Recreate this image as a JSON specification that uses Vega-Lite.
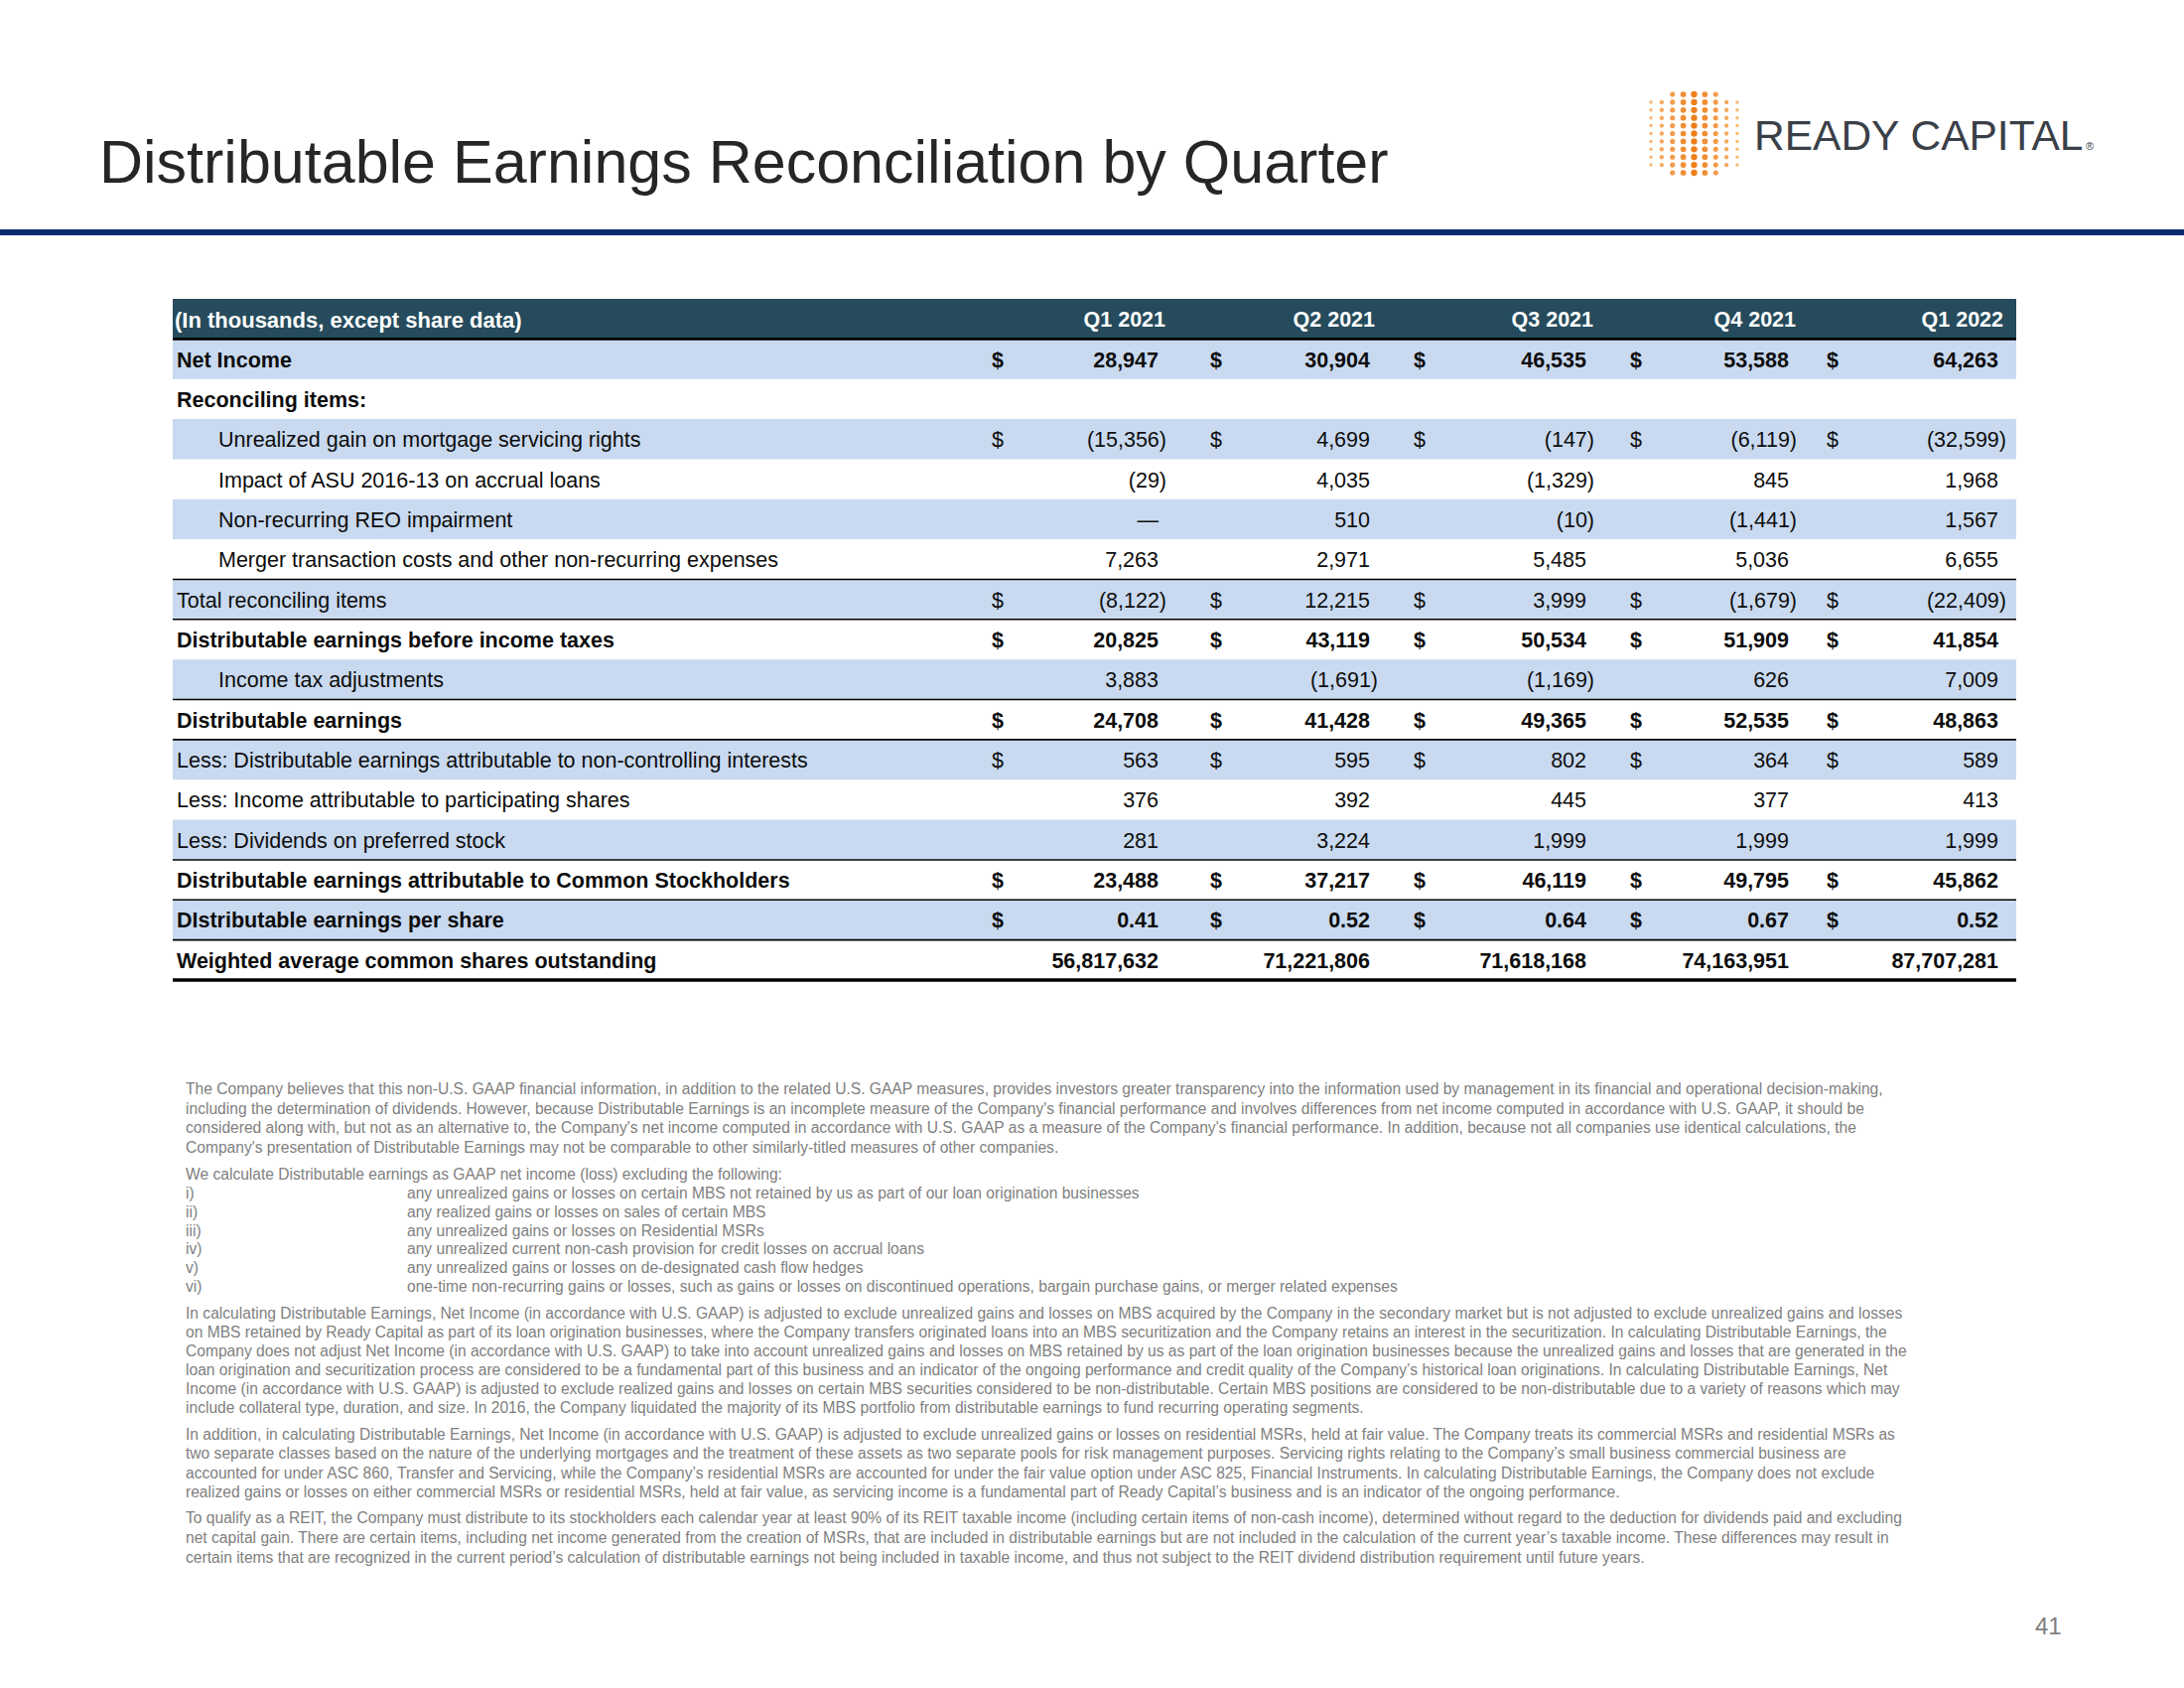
{
  "$schema": "https://vega.github.io/schema/vega-lite/v6.json",
  "width": 2200,
  "height": 1700,
  "autosize": "none",
  "padding": 0,
  "background": "white",
  "title": {"text": "Distributable Earnings Reconciliation by Quarter", "anchor": "start", "frame": "group", "orient": "top", "offset": 0, "dx": 100, "dy": 245, "baseline": "alphabetic", "font": "Liberation Sans", "fontSize": 61, "fontWeight": "normal", "color": "#262626"},
  "config": {"view": {"stroke": null}, "text": {"font": "Liberation Sans"}},
  "datasets": {
    "rows": [
      {"r": 0, "label": "(In thousands, except share data)", "level": 0},
      {"r": 1, "label": "Net Income", "level": 0},
      {"r": 2, "label": "Reconciling items:", "level": 0},
      {"r": 3, "label": "Unrealized gain on mortgage servicing rights", "level": 1},
      {"r": 4, "label": "Impact of ASU 2016-13 on accrual loans", "level": 1},
      {"r": 5, "label": "Non-recurring REO impairment", "level": 1},
      {"r": 6, "label": "Merger transaction costs and other non-recurring expenses", "level": 1},
      {"r": 7, "label": "Total reconciling items", "level": 0},
      {"r": 8, "label": "Distributable earnings before income taxes", "level": 0},
      {"r": 9, "label": "Income tax adjustments", "level": 1},
      {"r": 10, "label": "Distributable earnings", "level": 0},
      {"r": 11, "label": "Less: Distributable earnings attributable to non-controlling interests", "level": 0},
      {"r": 12, "label": "Less: Income attributable to participating shares", "level": 0},
      {"r": 13, "label": "Less: Dividends on preferred stock", "level": 0},
      {"r": 14, "label": "Distributable earnings attributable to Common Stockholders", "level": 0},
      {"r": 15, "label": "DIstributable earnings per share", "level": 0},
      {"r": 16, "label": "Weighted average common shares outstanding", "level": 0}
    ],
    "quarters": [
      {"c": 1, "q": "Q1 2021"}, {"c": 2, "q": "Q2 2021"}, {"c": 3, "q": "Q3 2021"}, {"c": 4, "q": "Q4 2021"}, {"c": 5, "q": "Q1 2022"}
    ],
    "cells": [
      {"r": 1, "c": 1, "v": 28947, "usd": true}, {"r": 1, "c": 2, "v": 30904, "usd": true}, {"r": 1, "c": 3, "v": 46535, "usd": true}, {"r": 1, "c": 4, "v": 53588, "usd": true}, {"r": 1, "c": 5, "v": 64263, "usd": true},
      {"r": 3, "c": 1, "v": -15356, "usd": true}, {"r": 3, "c": 2, "v": 4699, "usd": true}, {"r": 3, "c": 3, "v": -147, "usd": true}, {"r": 3, "c": 4, "v": -6119, "usd": true}, {"r": 3, "c": 5, "v": -32599, "usd": true},
      {"r": 4, "c": 1, "v": -29, "usd": false}, {"r": 4, "c": 2, "v": 4035, "usd": false}, {"r": 4, "c": 3, "v": -1329, "usd": false}, {"r": 4, "c": 4, "v": 845, "usd": false}, {"r": 4, "c": 5, "v": 1968, "usd": false},
      {"r": 5, "c": 1, "v": null, "usd": false}, {"r": 5, "c": 2, "v": 510, "usd": false}, {"r": 5, "c": 3, "v": -10, "usd": false}, {"r": 5, "c": 4, "v": -1441, "usd": false}, {"r": 5, "c": 5, "v": 1567, "usd": false},
      {"r": 6, "c": 1, "v": 7263, "usd": false}, {"r": 6, "c": 2, "v": 2971, "usd": false}, {"r": 6, "c": 3, "v": 5485, "usd": false}, {"r": 6, "c": 4, "v": 5036, "usd": false}, {"r": 6, "c": 5, "v": 6655, "usd": false},
      {"r": 7, "c": 1, "v": -8122, "usd": true}, {"r": 7, "c": 2, "v": 12215, "usd": true}, {"r": 7, "c": 3, "v": 3999, "usd": true}, {"r": 7, "c": 4, "v": -1679, "usd": true}, {"r": 7, "c": 5, "v": -22409, "usd": true},
      {"r": 8, "c": 1, "v": 20825, "usd": true}, {"r": 8, "c": 2, "v": 43119, "usd": true}, {"r": 8, "c": 3, "v": 50534, "usd": true}, {"r": 8, "c": 4, "v": 51909, "usd": true}, {"r": 8, "c": 5, "v": 41854, "usd": true},
      {"r": 9, "c": 1, "v": 3883, "usd": false}, {"r": 9, "c": 2, "v": -1691, "usd": false}, {"r": 9, "c": 3, "v": -1169, "usd": false}, {"r": 9, "c": 4, "v": 626, "usd": false}, {"r": 9, "c": 5, "v": 7009, "usd": false},
      {"r": 10, "c": 1, "v": 24708, "usd": true}, {"r": 10, "c": 2, "v": 41428, "usd": true}, {"r": 10, "c": 3, "v": 49365, "usd": true}, {"r": 10, "c": 4, "v": 52535, "usd": true}, {"r": 10, "c": 5, "v": 48863, "usd": true},
      {"r": 11, "c": 1, "v": 563, "usd": true}, {"r": 11, "c": 2, "v": 595, "usd": true}, {"r": 11, "c": 3, "v": 802, "usd": true}, {"r": 11, "c": 4, "v": 364, "usd": true}, {"r": 11, "c": 5, "v": 589, "usd": true},
      {"r": 12, "c": 1, "v": 376, "usd": false}, {"r": 12, "c": 2, "v": 392, "usd": false}, {"r": 12, "c": 3, "v": 445, "usd": false}, {"r": 12, "c": 4, "v": 377, "usd": false}, {"r": 12, "c": 5, "v": 413, "usd": false},
      {"r": 13, "c": 1, "v": 281, "usd": false}, {"r": 13, "c": 2, "v": 3224, "usd": false}, {"r": 13, "c": 3, "v": 1999, "usd": false}, {"r": 13, "c": 4, "v": 1999, "usd": false}, {"r": 13, "c": 5, "v": 1999, "usd": false},
      {"r": 14, "c": 1, "v": 23488, "usd": true}, {"r": 14, "c": 2, "v": 37217, "usd": true}, {"r": 14, "c": 3, "v": 46119, "usd": true}, {"r": 14, "c": 4, "v": 49795, "usd": true}, {"r": 14, "c": 5, "v": 45862, "usd": true},
      {"r": 15, "c": 1, "v": 0.41, "usd": true}, {"r": 15, "c": 2, "v": 0.52, "usd": true}, {"r": 15, "c": 3, "v": 0.64, "usd": true}, {"r": 15, "c": 4, "v": 0.67, "usd": true}, {"r": 15, "c": 5, "v": 0.52, "usd": true},
      {"r": 16, "c": 1, "v": 56817632, "usd": false}, {"r": 16, "c": 2, "v": 71221806, "usd": false}, {"r": 16, "c": 3, "v": 71618168, "usd": false}, {"r": 16, "c": 4, "v": 74163951, "usd": false}, {"r": 16, "c": 5, "v": 87707281, "usd": false}
    ],
    "notes": [
      {"n": 1, "t": "The Company believes that this non-U.S. GAAP financial information, in addition to the related U.S. GAAP measures, provides investors greater transparency into the information used by management in its financial and operational decision-making,"},
      {"n": 2, "t": "including the determination of dividends. However, because Distributable Earnings is an incomplete measure of the Company's financial performance and involves differences from net income computed in accordance with U.S. GAAP, it should be"},
      {"n": 3, "t": "considered along with, but not as an alternative to, the Company's net income computed in accordance with U.S. GAAP as a measure of the Company's financial performance. In addition, because not all companies use identical calculations, the"},
      {"n": 4, "t": "Company's presentation of Distributable Earnings may not be comparable to other similarly-titled measures of other companies."},
      {"n": 5, "t": "We calculate Distributable earnings as GAAP net income (loss) excluding the following:"},
      {"n": 6, "num": "i)", "t": "any unrealized gains or losses on certain MBS not retained by us as part of our loan origination businesses"},
      {"n": 7, "num": "ii)", "t": "any realized gains or losses on sales of certain MBS"},
      {"n": 8, "num": "iii)", "t": "any unrealized gains or losses on Residential MSRs"},
      {"n": 9, "num": "iv)", "t": "any unrealized current non-cash provision for credit losses on accrual loans"},
      {"n": 10, "num": "v)", "t": "any unrealized gains or losses on de-designated cash flow hedges"},
      {"n": 11, "num": "vi)", "t": "one-time non-recurring gains or losses, such as gains or losses on discontinued operations, bargain purchase gains, or merger related expenses"},
      {"n": 12, "t": "In calculating Distributable Earnings, Net Income (in accordance with U.S. GAAP) is adjusted to exclude unrealized gains and losses on MBS acquired by the Company in the secondary market but is not adjusted to exclude unrealized gains and losses"},
      {"n": 13, "t": "on MBS retained by Ready Capital as part of its loan origination businesses, where the Company transfers originated loans into an MBS securitization and the Company retains an interest in the securitization. In calculating Distributable Earnings, the"},
      {"n": 14, "t": "Company does not adjust Net Income (in accordance with U.S. GAAP) to take into account unrealized gains and losses on MBS retained by us as part of the loan origination businesses because the unrealized gains and losses that are generated in the"},
      {"n": 15, "t": "loan origination and securitization process are considered to be a fundamental part of this business and an indicator of the ongoing performance and credit quality of the Company’s historical loan originations. In calculating Distributable Earnings, Net"},
      {"n": 16, "t": "Income (in accordance with U.S. GAAP) is adjusted to exclude realized gains and losses on certain MBS securities considered to be non-distributable. Certain MBS positions are considered to be non-distributable due to a variety of reasons which may"},
      {"n": 17, "t": "include collateral type, duration, and size. In 2016, the Company liquidated the majority of its MBS portfolio from distributable earnings to fund recurring operating segments."},
      {"n": 18, "t": "In addition, in calculating Distributable Earnings, Net Income (in accordance with U.S. GAAP) is adjusted to exclude unrealized gains or losses on residential MSRs, held at fair value.  The Company treats its commercial MSRs and residential MSRs as"},
      {"n": 19, "t": "two separate classes based on the nature of the underlying mortgages and the treatment of these assets as two separate pools for risk management purposes.  Servicing rights relating to the Company’s small business commercial business are"},
      {"n": 20, "t": "accounted for under ASC 860, Transfer and Servicing, while the Company’s residential MSRs are accounted for under the fair value option under ASC 825, Financial Instruments.  In calculating Distributable Earnings, the Company does not exclude"},
      {"n": 21, "t": "realized gains or losses on either commercial MSRs or residential MSRs, held at fair value, as servicing income is a fundamental part of Ready Capital’s business and is an indicator of the ongoing performance."},
      {"n": 22, "t": "To qualify as a REIT, the Company must distribute to its stockholders each calendar year at least 90% of its REIT taxable income (including certain items of non-cash income), determined without regard to the deduction for dividends paid and excluding"},
      {"n": 23, "t": "net capital gain. There are certain items, including net income generated from the creation of MSRs, that are included in distributable earnings but are not included in the calculation of the current year’s taxable income. These differences may result in"},
      {"n": 24, "t": "certain items that are recognized in the current period’s calculation of distributable earnings not being included in taxable income, and thus not subject to the REIT dividend distribution requirement until future years."}
    ],
    "slide": [
      {"part": "logo", "t": "READY CAPITAL"},
      {"part": "page", "t": "41"}
    ],
    "logo": [
      {"c": 0, "r": [1, 2, 3, 4, 5, 6, 7, 8, 9]},
      {"c": 1, "r": [1, 2, 3, 4, 5, 6, 7, 8, 9]},
      {"c": 2, "r": [0, 1, 2, 3, 4, 5, 6, 7, 8, 9, 10]},
      {"c": 3, "r": [0, 1, 2, 3, 4, 5, 6, 7, 8, 9, 10]},
      {"c": 4, "r": [0, 1, 2, 3, 4, 5, 6, 7, 8, 9, 10]},
      {"c": 5, "r": [0, 1, 2, 3, 4, 5, 6, 7, 8, 9, 10]},
      {"c": 6, "r": [0, 1, 2, 3, 4, 5, 6, 7, 8, 9, 10]},
      {"c": 7, "r": [1, 2, 3, 4, 5, 6, 7, 8, 9]},
      {"c": 8, "r": [1, 2, 3, 4, 5, 6, 7, 8, 9]}
    ],
    "banner": [{"part": "header rule"}]
  },
  "resolve": {"scale": {"x": "independent", "y": "independent", "size": "independent", "color": "independent"}},
  "layer": [
    {
      "data": {"name": "banner"},
      "mark": {"type": "rect", "color": "#0b2b6e"},
      "encoding": {
        "x": {"datum": 0, "type": "quantitative", "axis": null, "scale": {"domain": [0, 1], "range": [0, 2200], "nice": false, "zero": false}},
        "x2": {"datum": 1},
        "y": {"datum": 0, "type": "quantitative", "axis": null, "scale": {"domain": [0, 1], "range": [231, 237], "nice": false, "zero": false}},
        "y2": {"datum": 1}
      }
    },
    {
      "data": {"name": "rows"},
      "transform": [{"filter": "datum.r == 0"}],
      "mark": {"type": "rect", "color": "#254b5c"},
      "encoding": {
        "x": {"datum": 0, "type": "quantitative", "axis": null, "scale": {"domain": [0, 1], "range": [174, 2031], "nice": false, "zero": false}},
        "x2": {"datum": 1},
        "y": {"field": "r", "type": "ordinal", "axis": null, "scale": {"type": "band", "domain": [0, 1, 2, 3, 4, 5, 6, 7, 8, 9, 10, 11, 12, 13, 14, 15, 16], "range": [301, 987], "paddingInner": 0, "paddingOuter": 0}}
      }
    },
    {
      "data": {"name": "rows"},
      "transform": [{"filter": "datum.r % 2 == 1"}],
      "mark": {"type": "rect", "color": "#c9daf0"},
      "encoding": {
        "x": {"datum": 0, "type": "quantitative", "axis": null, "scale": {"domain": [0, 1], "range": [174, 2031], "nice": false, "zero": false}},
        "x2": {"datum": 1},
        "y": {"field": "r", "type": "ordinal", "axis": null, "scale": {"type": "band", "domain": [0, 1, 2, 3, 4, 5, 6, 7, 8, 9, 10, 11, 12, 13, 14, 15, 16], "range": [301, 987], "paddingInner": 0, "paddingOuter": 0}}
      }
    },
    {
      "data": {"name": "rows"},
      "transform": [{"filter": "indexof([6, 7, 9, 10, 13, 14, 15], datum.r) >= 0"}],
      "mark": {"type": "rule", "color": "#000000", "strokeWidth": 1.6},
      "encoding": {
        "x": {"datum": 0, "type": "quantitative", "axis": null, "scale": {"domain": [0, 1], "range": [174, 2031], "nice": false, "zero": false}},
        "x2": {"datum": 1},
        "y": {"field": "r", "type": "ordinal", "bandPosition": 1, "axis": null, "scale": {"type": "band", "domain": [0, 1, 2, 3, 4, 5, 6, 7, 8, 9, 10, 11, 12, 13, 14, 15, 16], "range": [301, 987], "paddingInner": 0, "paddingOuter": 0}}
      }
    },
    {
      "data": {"name": "rows"},
      "transform": [{"filter": "datum.r == 0"}],
      "mark": {"type": "rule", "color": "#000000", "strokeWidth": 2.6},
      "encoding": {
        "x": {"datum": 0, "type": "quantitative", "axis": null, "scale": {"domain": [0, 1], "range": [174, 2031], "nice": false, "zero": false}},
        "x2": {"datum": 1},
        "y": {"field": "r", "type": "ordinal", "bandPosition": 1, "axis": null, "scale": {"type": "band", "domain": [0, 1, 2, 3, 4, 5, 6, 7, 8, 9, 10, 11, 12, 13, 14, 15, 16], "range": [301, 987], "paddingInner": 0, "paddingOuter": 0}}
      }
    },
    {
      "data": {"name": "rows"},
      "transform": [{"filter": "datum.r == 16"}],
      "mark": {"type": "rule", "color": "#000000", "strokeWidth": 3.5},
      "encoding": {
        "x": {"datum": 0, "type": "quantitative", "axis": null, "scale": {"domain": [0, 1], "range": [174, 2031], "nice": false, "zero": false}},
        "x2": {"datum": 1},
        "y": {"field": "r", "type": "ordinal", "bandPosition": 1, "axis": null, "scale": {"type": "band", "domain": [0, 1, 2, 3, 4, 5, 6, 7, 8, 9, 10, 11, 12, 13, 14, 15, 16], "range": [301, 987], "paddingInner": 0, "paddingOuter": 0}}
      }
    },
    {
      "data": {"name": "rows"},
      "transform": [{"filter": "datum.r == 0"}],
      "mark": {"type": "text", "align": "left", "baseline": "middle", "dy": 2, "fontSize": 22, "fontWeight": "bold", "color": "#ffffff"},
      "encoding": {
        "text": {"field": "label"},
        "x": {"field": "level", "type": "quantitative", "axis": null, "scale": {"domain": [0, 1], "range": [176, 220], "nice": false, "zero": false}},
        "y": {"field": "r", "type": "ordinal", "axis": null, "scale": {"type": "band", "domain": [0, 1, 2, 3, 4, 5, 6, 7, 8, 9, 10, 11, 12, 13, 14, 15, 16], "range": [301, 987], "paddingInner": 0, "paddingOuter": 0}}
      }
    },
    {
      "data": {"name": "rows"},
      "transform": [{"filter": "indexof([1, 2, 8, 10, 14, 15, 16], datum.r) >= 0"}],
      "mark": {"type": "text", "align": "left", "baseline": "middle", "dy": 2, "fontSize": 21.5, "fontWeight": "bold", "color": "#0d0d0d"},
      "encoding": {
        "text": {"field": "label"},
        "x": {"field": "level", "type": "quantitative", "axis": null, "scale": {"domain": [0, 1], "range": [178, 220], "nice": false, "zero": false}},
        "y": {"field": "r", "type": "ordinal", "axis": null, "scale": {"type": "band", "domain": [0, 1, 2, 3, 4, 5, 6, 7, 8, 9, 10, 11, 12, 13, 14, 15, 16], "range": [301, 987], "paddingInner": 0, "paddingOuter": 0}}
      }
    },
    {
      "data": {"name": "rows"},
      "transform": [{"filter": "datum.r > 0 && indexof([1, 2, 8, 10, 14, 15, 16], datum.r) < 0"}],
      "mark": {"type": "text", "align": "left", "baseline": "middle", "dy": 2, "fontSize": 21.5, "fontWeight": "normal", "color": "#0d0d0d"},
      "encoding": {
        "text": {"field": "label"},
        "x": {"field": "level", "type": "quantitative", "axis": null, "scale": {"domain": [0, 1], "range": [178, 220], "nice": false, "zero": false}},
        "y": {"field": "r", "type": "ordinal", "axis": null, "scale": {"type": "band", "domain": [0, 1, 2, 3, 4, 5, 6, 7, 8, 9, 10, 11, 12, 13, 14, 15, 16], "range": [301, 987], "paddingInner": 0, "paddingOuter": 0}}
      }
    },
    {
      "data": {"name": "quarters"},
      "mark": {"type": "text", "align": "right", "baseline": "middle", "dy": 2, "fontSize": 21.5, "fontWeight": "bold", "color": "#ffffff"},
      "encoding": {
        "text": {"field": "q"},
        "x": {"field": "c", "type": "quantitative", "axis": null, "scale": {"domain": [1, 2, 3, 4, 5], "range": [1174, 1385, 1605, 1809, 2018], "nice": false, "zero": false}},
        "y": {"datum": 0, "type": "ordinal", "axis": null, "scale": {"type": "band", "domain": [0, 1, 2, 3, 4, 5, 6, 7, 8, 9, 10, 11, 12, 13, 14, 15, 16], "range": [301, 987], "paddingInner": 0, "paddingOuter": 0}}
      }
    },
    {
      "data": {"name": "cells"},
      "transform": [{"filter": "datum.usd && indexof([1, 2, 8, 10, 14, 15, 16], datum.r) >= 0"}],
      "mark": {"type": "text", "align": "center", "baseline": "middle", "dy": 2, "fontSize": 21.5, "fontWeight": "bold", "color": "#0d0d0d", "text": "$"},
      "encoding": {
        "x": {"field": "c", "type": "quantitative", "axis": null, "scale": {"domain": [1, 2, 3, 4, 5], "range": [1005, 1225, 1430, 1648, 1846], "nice": false, "zero": false}},
        "y": {"field": "r", "type": "ordinal", "axis": null, "scale": {"type": "band", "domain": [0, 1, 2, 3, 4, 5, 6, 7, 8, 9, 10, 11, 12, 13, 14, 15, 16], "range": [301, 987], "paddingInner": 0, "paddingOuter": 0}}
      }
    },
    {
      "data": {"name": "cells"},
      "transform": [{"filter": "datum.usd && indexof([1, 2, 8, 10, 14, 15, 16], datum.r) < 0"}],
      "mark": {"type": "text", "align": "center", "baseline": "middle", "dy": 2, "fontSize": 21.5, "fontWeight": "normal", "color": "#0d0d0d", "text": "$"},
      "encoding": {
        "x": {"field": "c", "type": "quantitative", "axis": null, "scale": {"domain": [1, 2, 3, 4, 5], "range": [1005, 1225, 1430, 1648, 1846], "nice": false, "zero": false}},
        "y": {"field": "r", "type": "ordinal", "axis": null, "scale": {"type": "band", "domain": [0, 1, 2, 3, 4, 5, 6, 7, 8, 9, 10, 11, 12, 13, 14, 15, 16], "range": [301, 987], "paddingInner": 0, "paddingOuter": 0}}
      }
    },
    {
      "data": {"name": "cells"},
      "transform": [
        {"filter": "indexof([1, 2, 8, 10, 14, 15, 16], datum.r) >= 0"},
        {"calculate": "datum.v == null ? '—' : (datum.v < 0 ? '(' + format(-datum.v, ',') + ')' : format(datum.v, ','))", "as": "label"}
      ],
      "mark": {"type": "text", "align": "right", "baseline": "middle", "dy": 2, "fontSize": 21.5, "fontWeight": "bold", "color": "#0d0d0d"},
      "encoding": {
        "text": {"field": "label"},
        "x": {"field": "c", "type": "quantitative", "axis": null, "scale": {"domain": [1, 2, 3, 4, 5], "range": [1167, 1380, 1598, 1802, 2013], "nice": false, "zero": false}},
        "y": {"field": "r", "type": "ordinal", "axis": null, "scale": {"type": "band", "domain": [0, 1, 2, 3, 4, 5, 6, 7, 8, 9, 10, 11, 12, 13, 14, 15, 16], "range": [301, 987], "paddingInner": 0, "paddingOuter": 0}}
      }
    },
    {
      "data": {"name": "cells"},
      "transform": [
        {"filter": "indexof([1, 2, 8, 10, 14, 15, 16], datum.r) < 0 && (datum.v == null || datum.v >= 0)"},
        {"calculate": "datum.v == null ? '—' : format(datum.v, ',')", "as": "label"}
      ],
      "mark": {"type": "text", "align": "right", "baseline": "middle", "dy": 2, "fontSize": 21.5, "fontWeight": "normal", "color": "#0d0d0d"},
      "encoding": {
        "text": {"field": "label"},
        "x": {"field": "c", "type": "quantitative", "axis": null, "scale": {"domain": [1, 2, 3, 4, 5], "range": [1167, 1380, 1598, 1802, 2013], "nice": false, "zero": false}},
        "y": {"field": "r", "type": "ordinal", "axis": null, "scale": {"type": "band", "domain": [0, 1, 2, 3, 4, 5, 6, 7, 8, 9, 10, 11, 12, 13, 14, 15, 16], "range": [301, 987], "paddingInner": 0, "paddingOuter": 0}}
      }
    },
    {
      "data": {"name": "cells"},
      "transform": [
        {"filter": "indexof([1, 2, 8, 10, 14, 15, 16], datum.r) < 0 && datum.v != null && datum.v < 0"},
        {"calculate": "'(' + format(-datum.v, ',') + ')'", "as": "label"}
      ],
      "mark": {"type": "text", "align": "right", "baseline": "middle", "dy": 2, "fontSize": 21.5, "fontWeight": "normal", "color": "#0d0d0d", "dx": 8},
      "encoding": {
        "text": {"field": "label"},
        "x": {"field": "c", "type": "quantitative", "axis": null, "scale": {"domain": [1, 2, 3, 4, 5], "range": [1167, 1380, 1598, 1802, 2013], "nice": false, "zero": false}},
        "y": {"field": "r", "type": "ordinal", "axis": null, "scale": {"type": "band", "domain": [0, 1, 2, 3, 4, 5, 6, 7, 8, 9, 10, 11, 12, 13, 14, 15, 16], "range": [301, 987], "paddingInner": 0, "paddingOuter": 0}}
      }
    },
    {
      "data": {"name": "logo"},
      "transform": [{"flatten": ["r"]}],
      "mark": {"type": "circle", "opacity": 1},
      "encoding": {
        "x": {"field": "c", "type": "quantitative", "axis": null, "scale": {"domain": [0, 8], "range": [1663, 1750], "nice": false, "zero": false}},
        "y": {"field": "r", "type": "quantitative", "axis": null, "scale": {"domain": [0, 10], "range": [95, 174], "nice": false, "zero": false}},
        "size": {"field": "c", "type": "quantitative", "legend": null, "scale": {"domain": [0, 4, 8], "range": [12, 40, 12], "zero": false}},
        "color": {"field": "c", "type": "quantitative", "legend": null, "scale": {"domain": [0, 4, 8], "range": ["#f6b777", "#ee7f1c", "#f6b777"]}}
      }
    },
    {
      "data": {"name": "slide"},
      "mark": {"type": "text", "align": "left", "baseline": "alphabetic"},
      "encoding": {
        "text": {"field": "t"},
        "x": {"field": "part", "type": "nominal", "axis": null, "scale": {"type": "point", "domain": ["logo", "page"], "range": [1767, 2050], "padding": 0}},
        "y": {"field": "part", "type": "nominal", "axis": null, "scale": {"type": "point", "domain": ["logo", "page"], "range": [151, 1646], "padding": 0}},
        "size": {"field": "part", "type": "ordinal", "legend": null, "scale": {"type": "point", "domain": ["logo", "page"], "range": [42.5, 24], "padding": 0}},
        "color": {"field": "part", "type": "nominal", "legend": null, "scale": {"domain": ["logo", "page"], "range": ["#3b4048", "#7f7f7f"]}}
      }
    },
    {
      "data": {"values": [{"t": "®"}]},
      "mark": {"type": "text", "align": "left", "baseline": "alphabetic", "fontSize": 11, "color": "#3b4048"},
      "encoding": {
        "text": {"field": "t"},
        "x": {"field": "t", "type": "nominal", "axis": null, "scale": {"type": "point", "range": [2101, 2101], "padding": 0}},
        "y": {"field": "t", "type": "nominal", "axis": null, "scale": {"type": "point", "range": [151, 151], "padding": 0}}
      }
    },
    {
      "data": {"name": "notes"},
      "transform": [{"filter": "!datum.num"}],
      "mark": {"type": "text", "align": "left", "baseline": "middle", "fontSize": 15.6, "color": "#808080"},
      "encoding": {
        "text": {"field": "t"},
        "x": {"datum": 0, "type": "quantitative", "axis": null, "scale": {"domain": [0, 1], "range": [187, 410], "nice": false, "zero": false}},
        "y": {"field": "n", "type": "quantitative", "axis": null, "scale": {"domain": [1, 4, 5, 11, 12, 17, 18, 21, 22, 24], "range": [1097, 1156, 1183, 1296, 1323, 1418, 1445, 1503, 1529, 1569], "nice": false, "zero": false}}
      }
    },
    {
      "data": {"name": "notes"},
      "transform": [{"filter": "datum.num"}],
      "mark": {"type": "text", "align": "left", "baseline": "middle", "fontSize": 15.6, "color": "#808080"},
      "encoding": {
        "text": {"field": "t"},
        "x": {"datum": 1, "type": "quantitative", "axis": null, "scale": {"domain": [0, 1], "range": [187, 410], "nice": false, "zero": false}},
        "y": {"field": "n", "type": "quantitative", "axis": null, "scale": {"domain": [1, 4, 5, 11, 12, 17, 18, 21, 22, 24], "range": [1097, 1156, 1183, 1296, 1323, 1418, 1445, 1503, 1529, 1569], "nice": false, "zero": false}}
      }
    },
    {
      "data": {"name": "notes"},
      "transform": [{"filter": "datum.num"}],
      "mark": {"type": "text", "align": "left", "baseline": "middle", "fontSize": 15.6, "color": "#808080"},
      "encoding": {
        "text": {"field": "num"},
        "x": {"datum": 0, "type": "quantitative", "axis": null, "scale": {"domain": [0, 1], "range": [187, 410], "nice": false, "zero": false}},
        "y": {"field": "n", "type": "quantitative", "axis": null, "scale": {"domain": [1, 4, 5, 11, 12, 17, 18, 21, 22, 24], "range": [1097, 1156, 1183, 1296, 1323, 1418, 1445, 1503, 1529, 1569], "nice": false, "zero": false}}
      }
    }
  ]
}
